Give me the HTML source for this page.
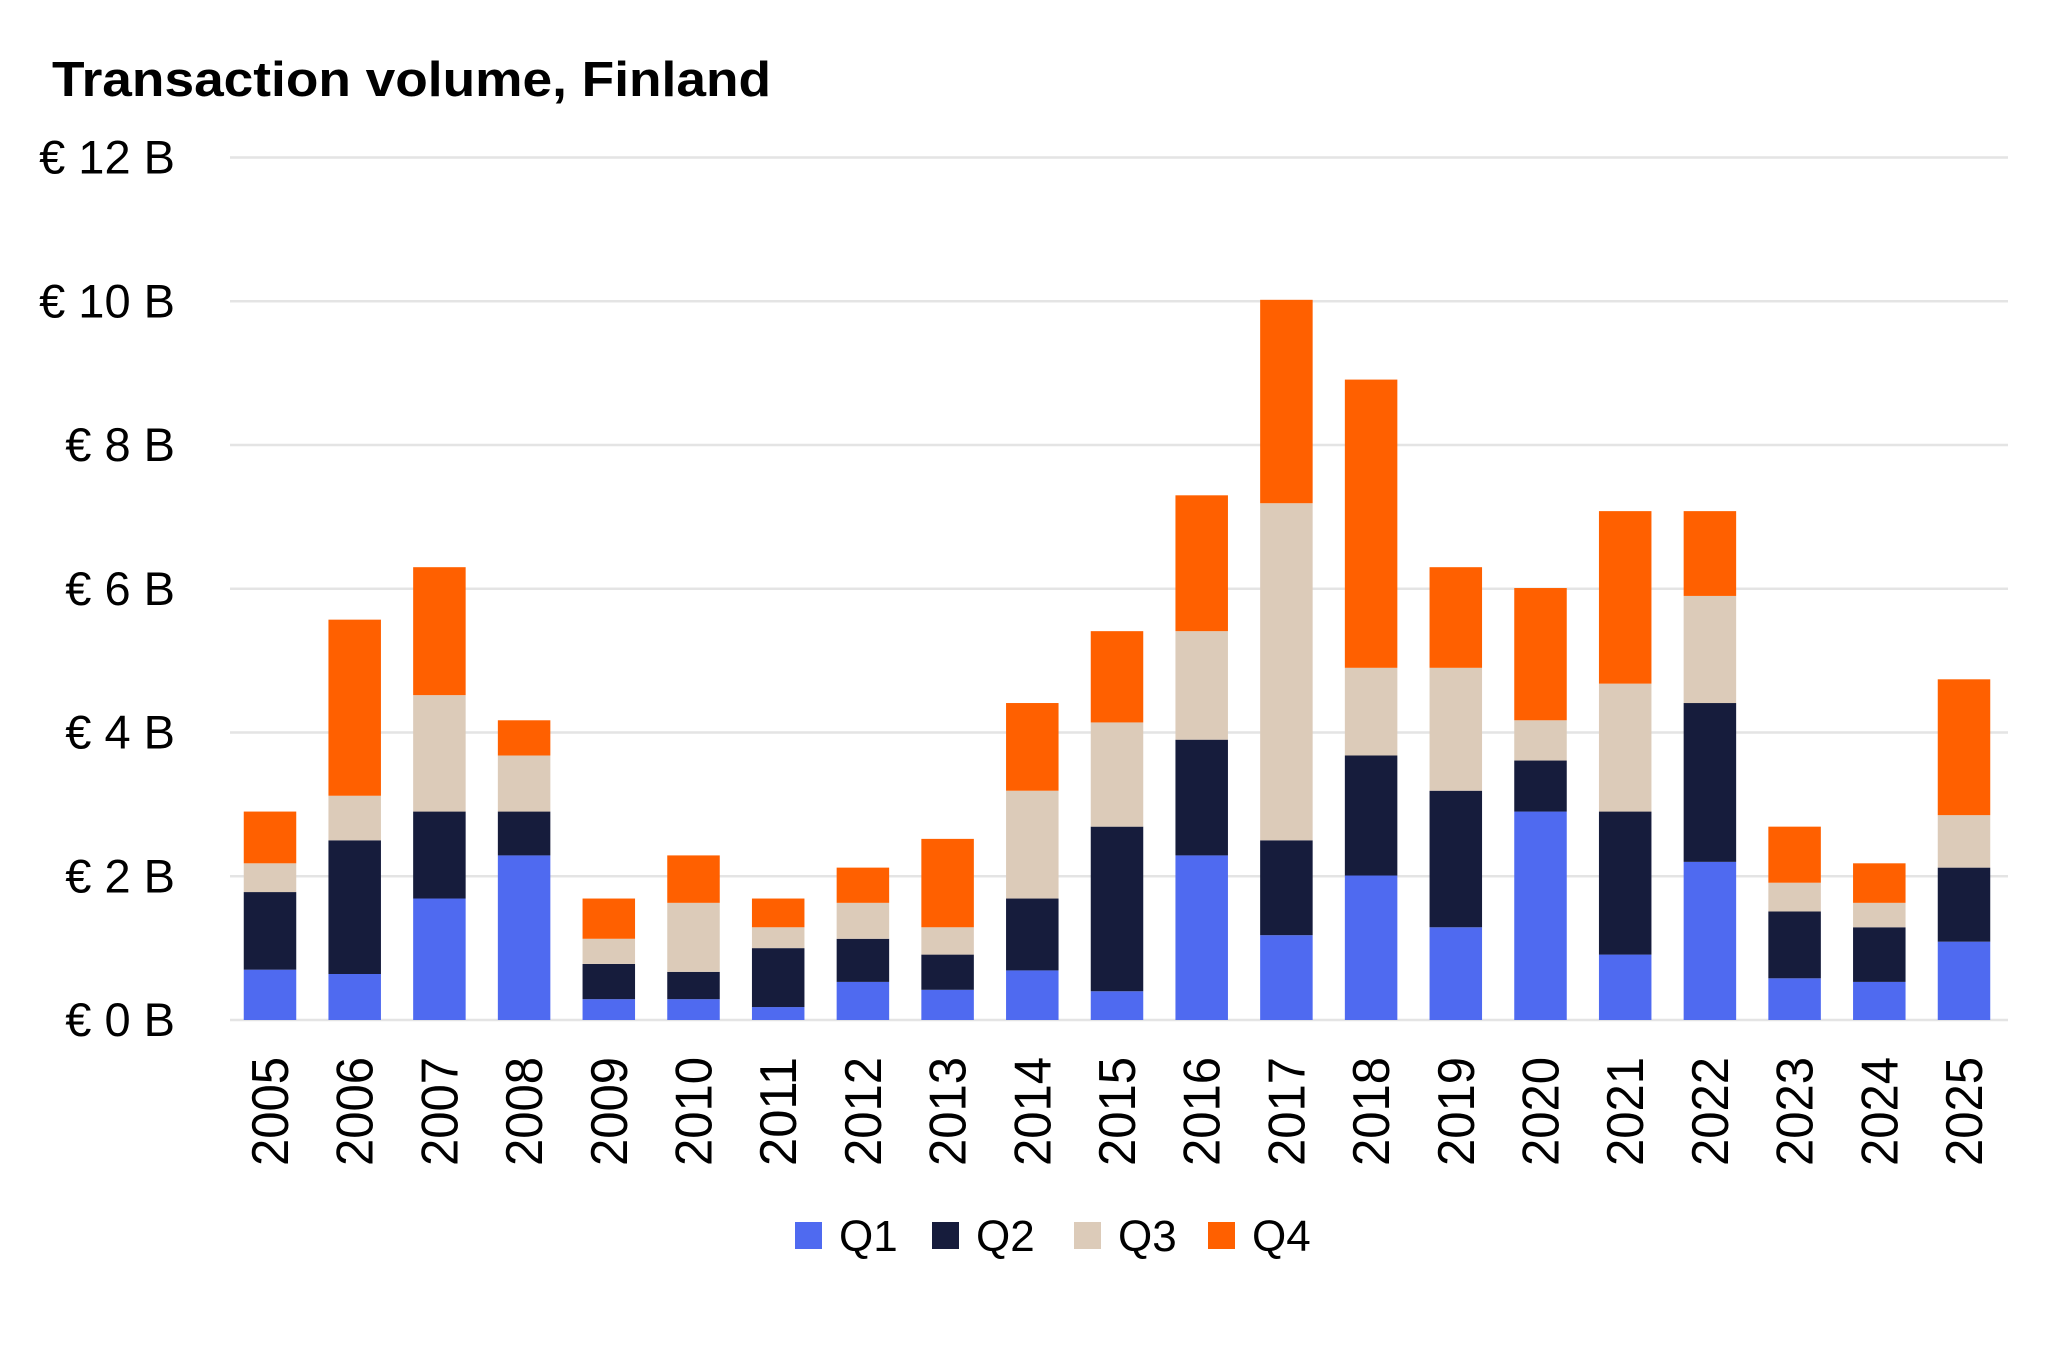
<!DOCTYPE html>
<html><head><meta charset="utf-8"><style>
html,body{margin:0;padding:0;background:#fff;}
svg{display:block;font-family:"Liberation Sans",sans-serif;}
</style></head><body>
<svg id="chart" width="2048" height="1348" viewBox="0 0 2048 1348" xmlns="http://www.w3.org/2000/svg">
<text x="52" y="96" font-size="49" font-weight="bold" fill="#000" textLength="719" lengthAdjust="spacingAndGlyphs">Transaction volume, Finland</text>
<g id="grid"></g><g id="bars"></g><g id="xlabels"></g>
<g id="legend"></g>
</svg>
<script>
const years=["2005","2006","2007","2008","2009","2010","2011","2012","2013","2014","2015","2016","2017","2018","2019","2020","2021","2022","2023","2024","2025"];
const q1=[0.7,0.64,1.69,2.29,0.29,0.29,0.18,0.53,0.42,0.69,0.4,2.29,1.18,2.01,1.29,2.9,0.91,2.2,0.58,0.53,1.09];
const q2=[1.08,1.86,1.21,0.61,0.49,0.38,0.82,0.6,0.49,1.0,2.29,1.61,1.32,1.67,1.9,0.71,1.99,2.21,0.93,0.76,1.03];
const q3=[0.4,0.62,1.62,0.78,0.35,0.96,0.29,0.5,0.38,1.5,1.45,1.51,4.69,1.22,1.71,0.56,1.78,1.49,0.4,0.34,0.73];
const q4=[0.72,2.45,1.78,0.49,0.56,0.66,0.4,0.49,1.23,1.22,1.27,1.89,2.83,4.01,1.4,1.84,2.4,1.18,0.78,0.55,1.89];
const yTicks=[0,2,4,6,8,10,12];
const yTickLabels=["€ 0 B","€ 2 B","€ 4 B","€ 6 B","€ 8 B","€ 10 B","€ 12 B"];
const seriesNames=["Q1","Q2","Q3","Q4"];
const colors=["#4f6af0","#161c3c","#dccbb9","#ff6000"];
const NS="http://www.w3.org/2000/svg";
const y0=1020,yTop=157.5,pxPer=(y0-yTop)/12;
const yS=v=>y0-v*pxPer;
const x0=270,step=84.7,bw=52.5;
const xS=i=>x0+i*step;
function mk(t,a,p){const e=document.createElementNS(NS,t);for(const k in a)e.setAttribute(k,a[k]);p.appendChild(e);return e;}
const grid=document.getElementById('grid');
yTicks.forEach((v,i)=>{
 const l=mk('line',{x1:230,x2:2008,y1:yS(v),y2:yS(v),stroke:'#e4e4e4','stroke-width':2.5},grid);
 
 
 const t=mk('text',{x:175,y:yS(v)+16,'text-anchor':'end','font-size':47,fill:'#000'},grid);
 
 
 t.textContent=yTickLabels[i];
});
const bars=document.getElementById('bars');
const series=[q1,q2,q3,q4];
years.forEach((yr,i)=>{
 let base=0;
 series.forEach((s,k)=>{
  const r=mk('rect',{x:xS(i)-bw/2,y:yS(base+s[i]),width:bw,height:s[i]*pxPer,fill:colors[k]},bars);
  
  
  base+=s[i];
 });
 const t=mk('text',{x:0,y:0,'font-size':52,fill:'#000','text-anchor':'end',textLength:109,lengthAdjust:'spacingAndGlyphs',transform:`translate(${xS(i)+18},1057) rotate(-90)`},document.getElementById('xlabels'));
 
 
 t.textContent=yr;
});
const legend=document.getElementById('legend');
const lx=[795,932,1074,1208];
seriesNames.forEach((n,k)=>{
 const r=mk('rect',{x:lx[k],y:1222,width:27,height:27,fill:colors[k]},legend);
 
 
 const t=mk('text',{x:lx[k]+44,y:1251,'font-size':44,fill:'#000'},legend);
 
 
 t.textContent=n;
});
</script>
</body></html>
